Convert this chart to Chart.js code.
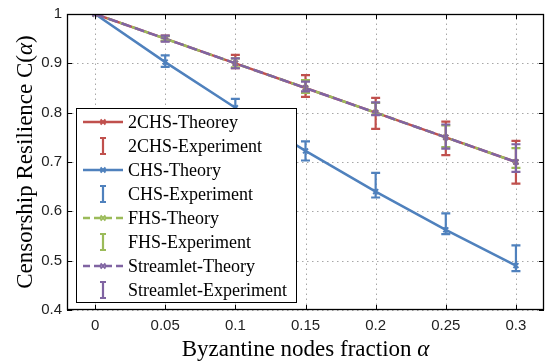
<!DOCTYPE html>
<html>
<head>
<meta charset="utf-8">
<script src="https://cdn.jsdelivr.net/npm/chart.js@4.4.1/dist/chart.umd.min.js"></script>
<style>
html, body { margin: 0; padding: 0; background: #fff; }
#wrap { width: 550px; height: 363px; }
</style>
</head>
<body>
<div id="wrap"><canvas id="chart" width="550" height="363"></canvas></div>
<script>
// x positions (Byzantine fraction) and axis ticks
const alphas = [0, 0.05, 0.1, 0.15, 0.2, 0.25, 0.3];
const xTicks = [0, 0.05, 0.1, 0.15, 0.2, 0.25, 0.3];
const yTicks = [0.4, 0.5, 0.6, 0.7, 0.8, 0.9, 1];

// theory curves
const twoChsTheory = [1, 0.95, 0.9, 0.85, 0.8, 0.75, 0.7];
const chsTheory = [1, 0.9025, 0.81, 0.7225, 0.64, 0.5625, 0.49];
const fhsTheory = [1, 0.95, 0.9, 0.85, 0.8, 0.75, 0.7];
const streamletTheory = [1, 0.95, 0.9, 0.85, 0.8, 0.75, 0.7];

// experiment error bars (low / high)
const twoChsLow = [1, 0.945, 0.89, 0.832, 0.767, 0.714, 0.656];
const twoChsHigh = [1, 0.956, 0.917, 0.876, 0.83, 0.782, 0.743];
const chsLow = [1, 0.893, 0.805, 0.703, 0.628, 0.554, 0.479];
const chsHigh = [1, 0.916, 0.828, 0.742, 0.678, 0.596, 0.531];
const fhsLow = [1, 0.946, 0.892, 0.84, 0.796, 0.73, 0.688];
const fhsHigh = [1, 0.955, 0.91, 0.866, 0.82, 0.774, 0.728];
const streamletLow = [1, 0.944, 0.89, 0.843, 0.795, 0.727, 0.68];
const streamletHigh = [1, 0.956, 0.91, 0.863, 0.821, 0.776, 0.736];

const RED = '#c0504d';
const BLUE = '#4f81bd';
const GREEN = '#9bbb59';
const PURPLE = '#8064a2';
const SERIF = "'Liberation Serif', 'Times New Roman', serif";
const SANS = "'Liberation Sans', Arial, sans-serif";

function points(values) {
    return alphas.map((a, i) => ({ x: a, y: values[i] }));
}

// higher order is drawn first (underneath)
function theory(label, values, color, dash, order) {
    return {
        label: label,
        data: points(values),
        order: order,
        borderColor: color,
        backgroundColor: color,
        borderWidth: 2.5,
        borderDash: dash,
        pointStyle: 'crossRot',
        pointRadius: 3.5,
        pointBorderWidth: 2,
        pointBorderColor: color,
        tension: 0
    };
}

function experiment(label, low, high, color) {
    return {
        label: label,
        data: points(low.map((v, i) => (v + high[i]) / 2)),
        low: low,
        high: high,
        order: 10,
        borderColor: color,
        showLine: false,
        pointRadius: 0,
        isErrorBar: true
    };
}

const gridPlugin = {
    id: 'dottedGrid',
    beforeDatasetsDraw(chart) {
        const ctx = chart.ctx;
        const a = chart.chartArea;
        const xs = chart.scales.x;
        const ys = chart.scales.y;
        ctx.save();
        ctx.strokeStyle = '#a8a8a8';
        ctx.lineWidth = 1;
        ctx.setLineDash([1.5, 3.5]);
        ctx.beginPath();
        xs.ticks.forEach(t => {
            const px = Math.round(xs.getPixelForValue(t.value)) + 0.5;
            ctx.moveTo(px, a.bottom); ctx.lineTo(px, a.top);
        });
        ys.ticks.forEach(t => {
            const py = Math.round(ys.getPixelForValue(t.value)) + 0.5;
            ctx.moveTo(a.left, py); ctx.lineTo(a.right, py);
        });
        ctx.stroke();
        ctx.restore();
    }
};

const errorBarPlugin = {
    id: 'errorBars',
    afterDatasetsDraw(chart) {
        const ctx = chart.ctx;
        const xs = chart.scales.x;
        const ys = chart.scales.y;
        chart.data.datasets.forEach(ds => {
            if (!ds.isErrorBar) return;
            ctx.save();
            ctx.strokeStyle = ds.borderColor;
            ctx.lineWidth = 2.2;
            alphas.forEach((a, i) => {
                if (ds.low[i] === ds.high[i]) return;
                const px = xs.getPixelForValue(a);
                const lo = ys.getPixelForValue(ds.low[i]);
                const hi = ys.getPixelForValue(ds.high[i]);
                ctx.beginPath();
                ctx.moveTo(px, lo); ctx.lineTo(px, hi);
                ctx.moveTo(px - 4.5, lo); ctx.lineTo(px + 4.5, lo);
                ctx.moveTo(px - 4.5, hi); ctx.lineTo(px + 4.5, hi);
                ctx.stroke();
            });
            ctx.restore();
        });
    }
};

const framePlugin = {
    id: 'frame',
    afterDraw(chart) {
        const ctx = chart.ctx;
        const a = chart.chartArea;
        const xs = chart.scales.x;
        const ys = chart.scales.y;
        ctx.save();
        ctx.strokeStyle = '#000';
        ctx.lineWidth = 1;
        // inward ticks
        ctx.beginPath();
        xs.ticks.forEach(t => {
            const px = Math.round(xs.getPixelForValue(t.value)) + 0.5;
            ctx.moveTo(px, a.bottom); ctx.lineTo(px, a.bottom - 5);
            ctx.moveTo(px, a.top); ctx.lineTo(px, a.top + 5);
        });
        ys.ticks.forEach(t => {
            const py = Math.round(ys.getPixelForValue(t.value)) + 0.5;
            ctx.moveTo(a.left, py); ctx.lineTo(a.left + 5, py);
            ctx.moveTo(a.right, py); ctx.lineTo(a.right - 5, py);
        });
        ctx.stroke();
        ctx.lineWidth = 1.3;
        ctx.strokeRect(a.left + 0.5, a.top + 0.5, a.right - a.left - 1, a.bottom - a.top - 1);

        // axis titles
        ctx.fillStyle = '#000';
        ctx.textBaseline = 'alphabetic';
        const xt = 'Byzantine nodes fraction ';
        ctx.font = '23px ' + SERIF;
        const w1 = ctx.measureText(xt).width;
        ctx.font = 'italic 23px ' + SERIF;
        const w2 = ctx.measureText('α').width;
        let sx = (a.left + a.right) / 2 - (w1 + w2) / 2;
        ctx.textAlign = 'left';
        ctx.font = '23px ' + SERIF;
        ctx.fillText(xt, sx, 356);
        ctx.font = 'italic 23px ' + SERIF;
        ctx.fillText('α', sx + w1, 356);

        ctx.save();
        ctx.translate(32, (a.top + a.bottom) / 2);
        ctx.rotate(-Math.PI / 2);
        const parts = [['Censorship Resilience C(', ''], ['α', 'italic '], [')', '']];
        let total = 0;
        parts.forEach(p => { ctx.font = p[1] + '23px ' + SERIF; total += ctx.measureText(p[0]).width; });
        let cx = -total / 2;
        parts.forEach(p => {
            ctx.font = p[1] + '23px ' + SERIF;
            ctx.fillText(p[0], cx, 0);
            cx += ctx.measureText(p[0]).width;
        });
        ctx.restore();

        // legend
        const lx = a.left + 9, ly = a.bottom - 202, lw = 220, lh = 194;
        ctx.fillStyle = '#fff';
        ctx.fillRect(lx, ly, lw, lh);
        ctx.lineWidth = 1;
        ctx.strokeStyle = '#000';
        ctx.strokeRect(lx + 0.5, ly + 0.5, lw, lh);
        const items = [
            ['2CHS-Theorey', RED, 'line', []],
            ['2CHS-Experiment', RED, 'bar'],
            ['CHS-Theory', BLUE, 'line', []],
            ['CHS-Experiment', BLUE, 'bar'],
            ['FHS-Theory', GREEN, 'line', [7, 4]],
            ['FHS-Experiment', GREEN, 'bar'],
            ['Streamlet-Theory', PURPLE, 'line', [7, 4]],
            ['Streamlet-Experiment', PURPLE, 'bar']
        ];
        items.forEach((it, i) => {
            const cy = ly + 14 + i * 24;
            const mx = lx + 27;
            ctx.strokeStyle = it[1];
            if (it[2] === 'line') {
                ctx.lineWidth = 2.5;
                ctx.setLineDash(it[3]);
                ctx.beginPath();
                ctx.moveTo(lx + 7, cy); ctx.lineTo(lx + 47, cy);
                ctx.stroke();
                ctx.setLineDash([]);
                ctx.lineWidth = 2;
                ctx.beginPath();
                ctx.moveTo(mx - 2.5, cy - 2.5); ctx.lineTo(mx + 2.5, cy + 2.5);
                ctx.moveTo(mx - 2.5, cy + 2.5); ctx.lineTo(mx + 2.5, cy - 2.5);
                ctx.stroke();
            } else {
                ctx.lineWidth = 2.2;
                ctx.beginPath();
                ctx.moveTo(mx, cy - 8); ctx.lineTo(mx, cy + 8);
                ctx.moveTo(mx - 3, cy - 8); ctx.lineTo(mx + 3, cy - 8);
                ctx.moveTo(mx - 3, cy + 8); ctx.lineTo(mx + 3, cy + 8);
                ctx.stroke();
            }
            ctx.fillStyle = '#000';
            ctx.font = '18px ' + SERIF;
            ctx.textAlign = 'left';
            ctx.textBaseline = 'middle';
            ctx.fillText(it[0], lx + 52, cy + 1);
        });
        ctx.restore();
    }
};

new Chart(document.getElementById('chart'), {
    type: 'line',
    data: {
        datasets: [
            theory('2CHS-Theorey', twoChsTheory, RED, [], 4),
            theory('CHS-Theory', chsTheory, BLUE, [], 3),
            theory('FHS-Theory', fhsTheory, GREEN, [7, 6], 2),
            theory('Streamlet-Theory', streamletTheory, PURPLE, [10, 4], 1),
            experiment('2CHS-Experiment', twoChsLow, twoChsHigh, RED),
            experiment('CHS-Experiment', chsLow, chsHigh, BLUE),
            experiment('FHS-Experiment', fhsLow, fhsHigh, GREEN),
            experiment('Streamlet-Experiment', streamletLow, streamletHigh, PURPLE)
        ]
    },
    options: {
        responsive: false,
        animation: false,
        devicePixelRatio: 1,
        layout: { padding: { top: 12, right: 1, left: 0, bottom: 0 } },
        plugins: { legend: { display: false }, tooltip: { enabled: false } },
        scales: {
            x: {
                type: 'linear',
                min: -0.02,
                max: 0.32,
                afterBuildTicks: s => { s.ticks = xTicks.map(v => ({ value: v })); },
                afterFit: s => { s.height = 53; },
                ticks: {
                    callback: v => String(Math.round(v * 100) / 100),
                    font: { family: SANS, size: 15 },
                    color: '#222',
                    padding: 7,
                    maxRotation: 0
                },
                grid: { display: false, drawTicks: false },
                border: { display: false }
            },
            y: {
                min: 0.4,
                max: 1,
                afterBuildTicks: s => { s.ticks = yTicks.map(v => ({ value: v })); },
                afterFit: s => { s.width = 67; },
                ticks: {
                    callback: v => String(Math.round(v * 10) / 10),
                    font: { family: SANS, size: 15 },
                    color: '#222',
                    padding: 5
                },
                grid: { display: false, drawTicks: false },
                border: { display: false }
            }
        }
    },
    plugins: [gridPlugin, errorBarPlugin, framePlugin]
});
</script>
</body>
</html>
